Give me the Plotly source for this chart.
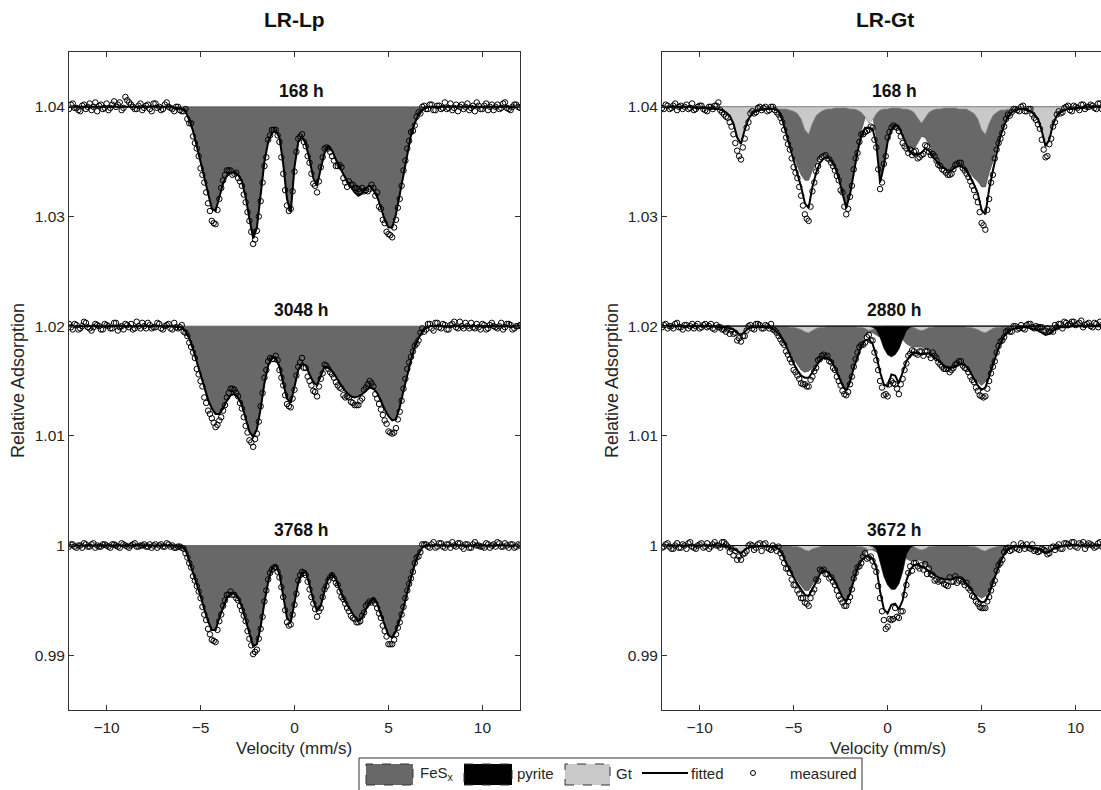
import numpy as np
import plotly.graph_objects as go

# ---------------- data ----------------
# velocity channels (mm/s) and the interleaved channels in between
velocity = np.round(np.linspace(-12.0, 12.0, 121), 1)
velocity_mid = np.round(np.linspace(-11.9, 11.9, 120), 1)
DEPTH_UNIT = 1e-4  # all depths below are absorption depths in units of 1e-4

# ---- LR-Lp panel (only FeSx; fill = fitted curve) ----
lp_times = ["168 h", "3048 h", "3768 h"]
lp_baselines = [1.04, 1.02, 1.00]

lp_168_fes = [
    0, 0, 0, 0, 0, 0, 0, 0, 0, 0,
    0, 0, 0, 0, 0, 0, 0, 0, 0, 0,
    0, 0, 0, 0, 0, 0, 0, 0, 1, 1,
    2, 4, 12, 22, 36, 50, 65, 80, 93, 95,
    82, 70, 63, 60, 60, 62, 68, 82, 102, 120,
    110, 80, 50, 32, 24, 22, 28, 52, 84, 96,
    55, 32, 27, 34, 48, 65, 72, 56, 42, 36,
    40, 48, 55, 62, 68, 73, 78, 81, 79, 74,
    72, 76, 82, 92, 103, 110, 110, 98, 80, 60,
    42, 26, 15, 7, 3, 1, 0, 0, 0, 0,
    0, 0, 0, 0, 0, 0, 0, 0, 0, 0,
    0, 0, 0, 0, 0, 0, 0, 0, 0, 0, 0]
lp_3048_fes = [
    0, 0, 0, 0, 0, 0, 0, 0, 0, 0,
    0, 0, 0, 0, 0, 0, 0, 0, 0, 0,
    0, 0, 0, 0, 0, 0, 0, 0, 0, 1,
    1, 5, 11, 21, 33, 45, 57, 67, 75, 80,
    80, 75, 68, 63, 62, 65, 72, 85, 96, 101,
    94, 75, 52, 36, 29, 29, 37, 52, 66, 70,
    56, 40, 34, 36, 44, 51, 54, 45, 37, 38,
    41, 46, 52, 57, 61, 64, 65, 64, 62, 59,
    56, 57, 61, 68, 76, 82, 86, 85, 74, 59,
    44, 31, 19, 11, 5, 2, 0, 0, 0, 0,
    0, 0, 0, 0, 0, 0, 0, 0, 0, 0,
    0, 0, 0, 0, 0, 0, 0, 0, 0, 0, 0]
lp_3768_fes = [
    0, 0, 0, 0, 0, 0, 0, 0, 0, 0,
    0, 0, 0, 0, 0, 0, 0, 0, 0, 0,
    0, 0, 0, 0, 0, 0, 0, 0, 0, 1,
    1, 4, 14, 24, 34, 46, 58, 69, 77, 77,
    66, 56, 48, 44, 44, 48, 56, 68, 81, 92,
    90, 74, 52, 33, 21, 18, 26, 45, 66, 70,
    53, 34, 25, 24, 36, 50, 60, 55, 41, 30,
    26, 31, 40, 48, 54, 60, 65, 69, 66, 58,
    52, 48, 53, 63, 73, 82, 84, 78, 68, 57,
    43, 29, 17, 8, 2, 0, 0, 0, 0, 0,
    0, 0, 0, 0, 0, 0, 0, 0, 0, 0,
    0, 0, 0, 0, 0, 0, 0, 0, 0, 0, 0]

# measured points on the main channels: measured minus fitted depth (1e-4)
lp_168_resid = [
    2, -3, 1, 4, -2, 0, 3, -4, -1, 2,
    -3, 1, -5, -2, 3, -9, -4, 0, 2, -3,
    1, -2, 4, -3, 0, 2, -4, 1, 3, -1,
    2, -2, 3, 5, 2, 6, 4, 8, 11, 12,
    2, -3, -5, -2, 1, 3, 4, 5, 2, 5,
    3, 6, 4, -2, -3, -1, 4, 9, 6, -3,
    4, -3, -2, 2, 3, 5, 6, -1, -4, 2,
    5, 6, -2, 3, 5, -2, -4, -6, -5, 2,
    3, -2, -4, 1, 3, 6, 9, 5, 4, -2,
    -4, -3, 2, -2, -3, 1, -2, 3, -1, 2,
    -4, 1, 3, -2, 0, 2, -3, 1, 4, -1,
    2, -3, 0, 3, -2, 1, -4, 2, 0, -2, 1]
lp_3048_resid = [
    -2, 3, -1, 2, -4, 1, 4, -2, 0, 3,
    -1, 2, -3, 4, 0, -2, 1, 3, -4, 2,
    0, -3, 2, 1, -2, 3, -1, 2, -3, 1,
    -2, 1, 4, 3, 6, 5, 8, 10, 9, 12,
    6, 2, -3, -6, -4, -1, 3, 6, 8, 9,
    4, -2, -5, -4, 1, -2, 3, 2, 5, 4,
    2, -3, -5, 2, 6, 8, 10, 3, -2, 1,
    3, 5, 4, 6, 3, 5, 7, 8, 4, -3,
    -6, -2, 5, 8, 10, 14, 12, 8, 4, -2,
    -5, -3, -1, 2, -3, 1, -2, 4, -3, 2,
    -1, 3, -2, 1, -4, 2, 0, -3, 2, 1,
    -2, 3, -1, 0, 2, -3, 1, -2, 3, 0, -1]
lp_3768_resid = [
    1, -1, 2, 0, -2, 1, -1, 2, 1, -1,
    0, 2, -1, 1, -2, 0, 2, -1, 1, 0,
    -1, 1, 2, -1, 0, 1, -2, 1, 2, 0,
    1, 3, 2, 4, 3, 2, 5, 7, 9, 11,
    3, -1, -3, -2, 1, 2, 3, 1, 4, 7,
    5, 2, -1, -2, 1, 2, 3, 2, 4, 2,
    1, -2, -1, 3, 4, 3, 5, 2, -1, 2,
    1, 3, 2, 1, 3, 4, 2, 1, -2, -3,
    -1, 2, 4, 3, 5, 8, 6, 3, 2, -1,
    -2, 1, -1, 2, -3, -1, 2, -3, 1, -2,
    2, -1, -3, 1, -2, 3, -1, 2, -3, 0,
    1, -2, 2, -1, -3, 1, -2, 2, -1, 1, 0]

# measured points on the in-between channels: measured depth (1e-4)
lp_168_meas_mid = [
    -2, 1, 3, -1, 2, -3, 0, 4, -2, 1,
    3, -2, 0, -4, 1, -6, -2, 2, -1, 3,
    -1, 2, -3, 1, 3, -2, 0, 2, 0, 3,
    4, 11, 15, 33, 45, 62, 78, 95, 106, 94,
    74, 62, 58, 62, 60, 68, 80, 96, 114, 121,
    100, 69, 46, 26, 21, 26, 46, 76, 95, 77,
    41, 27, 32, 45, 61, 72, 68, 46, 37, 41,
    49, 54, 55, 69, 68, 71, 74, 77, 77, 77,
    71, 81, 91, 103, 114, 117, 110, 92, 72, 49,
    31, 22, 9, 6, -1, 2, -2, 3, -1, 1,
    2, -3, 1, 4, -2, 0, 3, -1, -4, 2,
    -1, 3, -2, 0, 2, -3, 1, 3, -2, 0]
lp_3048_meas_mid = [
    1, -2, 3, 0, -3, 2, 1, -1, 3, -2,
    0, 2, -3, 1, 3, -1, -2, 2, 0, -3,
    2, -1, 1, -3, 2, 0, -2, 3, 1, 1,
    5, 9, 19, 29, 44, 55, 70, 80, 88, 90,
    83, 72, 61, 57, 61, 70, 83, 97, 106, 103,
    87, 61, 40, 29, 30, 31, 47, 63, 73, 66,
    45, 33, 38, 46, 54, 60, 55, 43, 36, 42,
    47, 54, 57, 65, 65, 70, 72, 68, 58, 53,
    52, 62, 71, 81, 89, 97, 97, 85, 68, 48,
    33, 23, 16, 6, 5, -2, 2, -3, 1, -2,
    3, -1, -4, 2, 0, -3, 2, 1, -2, 3,
    -1, 2, -3, 1, 0, 3, -2, -1, 2, 0]
lp_3768_meas_mid = [
    -1, 1, 0, 2, -1, 1, -2, 0, 1, -1,
    1, -1, 0, 2, -1, 1, 0, -2, 1, 0,
    1, -1, 0, 2, -1, 1, -1, 0, 2, 1,
    3, 11, 20, 32, 42, 56, 68, 81, 87, 77,
    63, 50, 45, 45, 48, 55, 64, 78, 91, 97,
    85, 65, 41, 25, 20, 24, 38, 59, 73, 63,
    44, 27, 25, 33, 47, 58, 60, 47, 37, 29,
    30, 36, 47, 53, 60, 66, 70, 69, 61, 53,
    52, 53, 62, 73, 83, 90, 86, 75, 63, 48,
    35, 24, 11, 6, -1, 1, -1, 2, -2, 1,
    -1, 2, 0, -2, 1, -1, 2, -1, 0, 1,
    2, -1, 0, 1, -2, 1, 0, -1, 2, -1]

# ---- LR-Gt panel (FeSx, goethite, pyrite components + fitted) ----
gt_times = ["168 h", "2880 h", "3672 h"]
gt_baselines = [1.04, 1.02, 1.00]

gt_168_fes = [
    0, 0, 0, 0, 0, 0, 0, 0, 0, 0,
    0, 0, 0, 0, 0, 0, 0, 0, 0, 0,
    0, 0, 0, 0, 0, 0, 0, 0, 0, 0,
    0, 2, 10, 22, 33, 45, 54, 62, 67, 67,
    58, 52, 46, 44, 44, 47, 54, 64, 78, 91,
    78, 58, 38, 22, 10, 4, 8, 28, 66, 52,
    30, 20, 16, 18, 25, 32, 38, 39, 33, 27,
    28, 35, 42, 48, 52, 55, 57, 57, 54, 52,
    53, 56, 60, 65, 68, 73, 73, 60, 50, 36,
    24, 14, 7, 3, 1, 0, 0, 0, 0, 0,
    0, 0, 0, 0, 0, 0, 0, 0, 0, 0,
    0, 0, 0, 0, 0, 0, 0, 0, 0, 0, 0]
gt_168_gt = [
    0, 0, 0, 0, 0, 0, 0, 0, 0, 1,
    1, 1, 1, 1, 2, 2, 3, 5, 8, 15,
    28, 34, 21, 11, 6, 4, 3, 2, 2, 2,
    2, 2, 2, 2, 3, 4, 6, 11, 21, 25,
    15, 8, 5, 3, 2, 2, 1, 1, 1, 1,
    2, 2, 3, 5, 9, 15, 12, 6, 3, 2,
    2, 1, 1, 1, 2, 2, 3, 5, 10, 15,
    10, 5, 3, 2, 2, 1, 1, 1, 1, 2,
    2, 2, 4, 6, 11, 21, 25, 15, 8, 5,
    3, 3, 2, 2, 2, 2, 2, 3, 4, 7,
    11, 22, 36, 30, 16, 8, 5, 3, 2, 2,
    1, 1, 1, 0, 0, 0, 0, 0, 0, 0, 0]
gt_168_pyr = None
gt_168_fit = [
    0, 0, 0, 0, 0, 0, 0, 0, 0, 1,
    1, 1, 1, 1, 2, 2, 3, 5, 8, 15,
    28, 34, 21, 11, 6, 4, 3, 2, 2, 2,
    2, 4, 12, 24, 36, 49, 60, 73, 88, 92,
    73, 60, 51, 47, 46, 49, 55, 65, 79, 92,
    80, 60, 41, 27, 19, 19, 20, 34, 69, 54,
    32, 21, 17, 19, 27, 34, 41, 44, 43, 42,
    38, 40, 45, 50, 54, 56, 58, 58, 55, 54,
    55, 58, 64, 71, 79, 94, 98, 75, 58, 41,
    27, 17, 9, 5, 3, 2, 2, 3, 4, 7,
    11, 22, 36, 30, 16, 8, 5, 3, 2, 2,
    1, 1, 1, 0, 0, 0, 0, 0, 0, 0, 0]
gt_168_resid = [
    1, -2, 2, -1, 3, -1, 0, 2, -3, 1,
    -2, 1, 3, -1, -3, -6, 2, 4, 6, 10,
    12, 14, 8, 3, -2, 1, -3, -1, 2, -2,
    1, 3, 2, 4, 3, 6, 5, 8, 10, 12,
    4, -1, -3, -2, 1, 2, 3, 2, -1, 6,
    2, -3, 1, -2, 4, 2, -1, 3, 6, -2,
    -4, -2, 1, 3, 6, 4, -2, -3, 4, 2,
    -3, 1, -2, -1, 0, 2, 4, 3, -2, -3,
    1, 3, 4, 5, 8, 12, 14, 9, 4, -2,
    2, 1, -2, 0, -1, 2, -3, 1, -2, 3,
    5, 8, 10, 4, 2, -1, 1, -2, -3, 2,
    -1, 2, -3, 0, -2, 1, -3, 2, -2, 1, 0]
gt_168_meas_mid = [
    2, -1, 1, -3, 0, 2, -2, 1, 3, 0,
    -1, 3, 0, 2, -1, 3, 7, 10, 18, 33,
    45, 37, 19, 6, 6, 1, 3, 0, 3, 0,
    5, 10, 21, 34, 47, 60, 73, 90, 102, 91,
    69, 54, 46, 44, 48, 54, 63, 76, 91, 93,
    72, 47, 32, 25, 22, 18, 30, 57, 69, 45,
    23, 17, 19, 27, 36, 42, 44, 40, 46, 43,
    36, 44, 45, 53, 57, 60, 62, 57, 52, 51,
    58, 64, 72, 82, 96, 108, 94, 69, 47, 33,
    24, 11, 8, 2, 3, 0, 4, 2, 7, 12,
    20, 39, 45, 29, 14, 4, 5, 0, 3, -1,
    1, -2, 2, 0, -1, 2, -3, 1, 0, -1]

gt_2880_fes = [
    0, 0, 0, 0, 0, 0, 0, 0, 0, 0,
    0, 0, 0, 0, 0, 0, 0, 0, 0, 0,
    0, 0, 0, 0, 0, 0, 0, 0, 0, 0,
    2, 5, 10, 16, 23, 30, 35, 40, 42, 41,
    38, 35, 30, 28, 28, 31, 37, 45, 53, 58,
    50, 37, 26, 15, 9, 6, 6, 8, 10, 10,
    10, 10, 10, 10, 12, 16, 18, 19, 19, 19,
    20, 22, 25, 29, 32, 35, 37, 37, 36, 34,
    34, 36, 41, 46, 51, 54, 51, 43, 33, 23,
    14, 8, 3, 1, 0, 0, 0, 0, 0, 0,
    0, 0, 0, 0, 0, 0, 0, 0, 0, 0,
    0, 0, 0, 0, 0, 0, 0, 0, 0, 0, 0]
gt_2880_gt = [
    0, 0, 0, 0, 0, 0, 0, 0, 0, 0,
    0, 0, 0, 0, 0, 1, 1, 1, 2, 3,
    6, 8, 5, 2, 1, 1, 0, 0, 0, 0,
    0, 0, 0, 0, 1, 1, 2, 3, 5, 6,
    4, 2, 1, 1, 0, 0, 0, 0, 0, 0,
    0, 0, 1, 1, 2, 4, 3, 2, 1, 0,
    0, 0, 0, 0, 0, 1, 1, 1, 3, 4,
    3, 1, 1, 0, 0, 0, 0, 0, 0, 0,
    0, 1, 1, 2, 3, 5, 6, 4, 2, 1,
    1, 0, 0, 0, 0, 0, 0, 0, 1, 2,
    3, 5, 8, 7, 4, 2, 1, 1, 1, 0,
    0, 0, 0, 0, 0, 0, 0, 0, 0, 0, 0]
gt_2880_pyr = [
    0, 0, 0, 0, 0, 0, 0, 0, 0, 0,
    0, 0, 0, 0, 0, 0, 0, 0, 0, 0,
    0, 0, 0, 0, 0, 0, 0, 0, 0, 0,
    0, 0, 0, 0, 0, 0, 0, 0, 0, 0,
    0, 0, 0, 0, 0, 0, 0, 0, 0, 0,
    0, 0, 0, 0, 0, 0, 1, 3, 10, 20,
    26, 28, 26, 21, 12, 4, 1, 0, 0, 0,
    0, 0, 0, 0, 0, 0, 0, 0, 0, 0,
    0, 0, 0, 0, 0, 0, 0, 0, 0, 0,
    0, 0, 0, 0, 0, 0, 0, 0, 0, 0,
    0, 0, 0, 0, 0, 0, 0, 0, 0, 0,
    0, 0, 0, 0, 0, 0, 0, 0, 0, 0, 0]
gt_2880_fit = [
    0, 0, 0, 0, 0, 0, 0, 0, 0, 0,
    0, 0, 0, 0, 0, 1, 1, 1, 2, 3,
    6, 8, 5, 2, 1, 1, 1, 1, 1, 1,
    4, 7, 12, 18, 26, 34, 40, 45, 47, 47,
    42, 36, 31, 29, 29, 32, 38, 46, 54, 59,
    51, 38, 27, 18, 13, 12, 16, 27, 42, 53,
    55, 44, 45, 52, 42, 32, 27, 24, 25, 26,
    25, 25, 27, 30, 33, 36, 38, 38, 37, 35,
    35, 37, 42, 48, 54, 58, 56, 46, 35, 25,
    16, 9, 5, 3, 2, 2, 1, 1, 2, 3,
    4, 6, 8, 7, 4, 2, 1, 1, 1, 0,
    0, 0, 0, 0, 0, 0, 0, 0, 0, 0, 0]
gt_2880_resid = [
    1, -2, 0, 2, -3, 1, -1, 2, -2, 0,
    2, -1, 1, -2, 3, 0, 2, 4, 5, 4,
    7, 6, 4, -2, 1, -3, -2, 1, -1, -3,
    0, 2, 3, 5, 4, 6, 5, 7, 6, 8,
    4, 2, -1, -3, -2, 1, 2, 4, 5, 4,
    2, -1, -3, -1, 2, -4, -3, 4, 8, 10,
    9, 6, 8, 10, 6, 2, -2, -1, 1, -3,
    -2, 1, -3, -1, 2, 3, 1, 2, -2, -3,
    1, 2, 4, 3, 5, 6, 8, 4, 2, -1,
    -2, 1, -1, 2, -2, 0, 1, -2, -4, -1,
    -3, -5, -4, -2, 1, -1, -3, -5, -2, -4,
    -1, -3, 1, -2, 0, -3, 1, -1, -2, 0, 1]
gt_2880_meas_mid = [
    -1, 2, 0, -2, 1, 3, -1, 0, 2, -2,
    1, -2, 0, 2, -1, 1, 3, 2, 4, 6,
    11, 9, 4, -1, 3, -2, 2, -1, 2, 3,
    6, 12, 17, 26, 33, 42, 48, 53, 55, 49,
    41, 31, 27, 28, 32, 38, 46, 54, 62, 60,
    46, 30, 19, 17, 10, 13, 24, 40, 56, 62,
    53, 52, 57, 53, 40, 27, 22, 25, 23, 27,
    23, 29, 27, 33, 37, 39, 42, 38, 34, 32,
    38, 42, 49, 56, 63, 65, 57, 43, 32, 18,
    13, 5, 5, 0, 3, -1, 3, -2, 1, 0,
    1, 4, 2, 4, -1, -2, 2, -3, -2, -4,
    -2, -5, -1, -3, 1, -2, -4, 0, -3, -1]

gt_3672_fes = [
    0, 0, 0, 0, 0, 0, 0, 0, 0, 0,
    0, 0, 0, 0, 0, 0, 0, 0, 0, 0,
    0, 0, 0, 0, 0, 0, 0, 0, 0, 0,
    0, 1, 6, 14, 21, 27, 32, 37, 41, 41,
    36, 30, 24, 22, 23, 27, 32, 38, 45, 49,
    42, 30, 19, 12, 7, 4, 4, 6, 8, 8,
    8, 8, 8, 8, 9, 12, 14, 13, 13, 14,
    17, 21, 24, 27, 29, 31, 31, 30, 28, 28,
    30, 34, 38, 42, 46, 48, 46, 41, 32, 24,
    15, 7, 2, 0, 0, 0, 0, 0, 0, 0,
    0, 0, 0, 0, 0, 0, 0, 0, 0, 0,
    0, 0, 0, 0, 0, 0, 0, 0, 0, 0, 0]
gt_3672_gt = [
    0, 0, 0, 0, 0, 0, 0, 0, 0, 0,
    0, 0, 0, 0, 0, 0, 1, 1, 2, 3,
    5, 7, 4, 2, 1, 1, 0, 0, 0, 0,
    0, 0, 0, 0, 0, 1, 1, 2, 4, 5,
    3, 2, 1, 0, 0, 0, 0, 0, 0, 0,
    0, 0, 1, 1, 2, 4, 3, 2, 1, 0,
    0, 0, 0, 0, 0, 1, 1, 1, 3, 4,
    3, 1, 1, 0, 0, 0, 0, 0, 0, 0,
    0, 0, 1, 1, 2, 4, 5, 3, 2, 1,
    0, 0, 0, 0, 0, 0, 0, 0, 1, 2,
    3, 4, 7, 6, 3, 2, 1, 0, 0, 0,
    0, 0, 0, 0, 0, 0, 0, 0, 0, 0, 0]
gt_3672_pyr = [
    0, 0, 0, 0, 0, 0, 0, 0, 0, 0,
    0, 0, 0, 0, 0, 0, 0, 0, 0, 0,
    0, 0, 0, 0, 0, 0, 0, 0, 0, 0,
    0, 0, 0, 0, 0, 0, 0, 0, 0, 0,
    0, 0, 0, 0, 0, 0, 0, 0, 0, 0,
    0, 0, 0, 0, 0, 0, 1, 3, 15, 28,
    36, 40, 40, 35, 24, 8, 2, 0, 0, 0,
    0, 0, 0, 0, 0, 0, 0, 0, 0, 0,
    0, 0, 0, 0, 0, 0, 0, 0, 0, 0,
    0, 0, 0, 0, 0, 0, 0, 0, 0, 0,
    0, 0, 0, 0, 0, 0, 0, 0, 0, 0,
    0, 0, 0, 0, 0, 0, 0, 0, 0, 0, 0]
gt_3672_fit = [
    0, 0, 0, 0, 0, 0, 0, 0, 0, 0,
    0, 0, 0, 0, 0, 0, 1, 1, 2, 3,
    5, 7, 4, 2, 1, 1, 1, 1, 1, 1,
    1, 3, 8, 16, 23, 29, 35, 40, 45, 46,
    40, 33, 26, 23, 24, 28, 33, 40, 47, 51,
    44, 32, 21, 14, 10, 10, 12, 20, 42, 58,
    62, 54, 53, 58, 50, 32, 22, 18, 17, 19,
    21, 23, 26, 28, 30, 31, 31, 31, 29, 29,
    31, 35, 40, 44, 49, 52, 51, 44, 34, 25,
    15, 8, 3, 2, 1, 1, 1, 1, 2, 3,
    3, 4, 7, 6, 3, 2, 1, 0, 0, 0,
    0, 0, 0, 0, 0, 0, 0, 0, 0, 0, 0]
gt_3672_resid = [
    2, -1, 1, 3, -2, 2, 0, -2, 1, 3,
    -1, 2, -2, 1, -3, 0, -4, -2, 4, 6,
    8, 6, 3, -2, -1, 1, -3, -2, 1, 3,
    1, -2, 3, 5, 2, 7, 6, 8, 7, 9,
    3, -2, -4, -1, 2, 1, 3, 6, 5, 4,
    3, -2, -1, 2, -3, 1, 2, 4, 6, 10,
    12, 14, 4, 8, 10, 4, -3, -2, 2, -1,
    -4, -2, 1, 3, 2, 4, 6, 2, -1, 3,
    2, -1, 1, 3, 4, 5, 6, 3, 1, -2,
    1, -2, -1, 2, 1, 3, -1, -2, 1, 2,
    3, -1, -2, 1, -2, -1, 2, -2, -1, -3,
    1, -2, -3, 0, -1, 2, -2, 1, -3, -1, 2]
gt_3672_meas_mid = [
    1, -2, 3, 0, 2, -1, 3, -3, 2, 0,
    -2, 1, 3, -1, 0, 2, -3, 1, 3, 5,
    10, 8, 5, -1, 4, -1, 5, -2, 3, 0,
    5, 7, 16, 21, 31, 36, 44, 48, 53, 48,
    40, 32, 23, 26, 30, 33, 41, 49, 55, 51,
    40, 25, 19, 10, 12, 10, 19, 37, 60, 76,
    67, 67, 65, 60, 45, 25, 23, 16, 21, 22,
    26, 26, 32, 33, 32, 36, 29, 33, 34, 31,
    36, 39, 46, 51, 56, 57, 51, 41, 32, 18,
    13, 3, 5, -1, 3, -2, 3, 2, -1, 4,
    5, 4, 8, 2, 4, -1, 3, -2, 1, -3,
    2, -1, 3, -2, 0, 1, -3, 2, -1, 3]

x_ticks = [-10, -5, 0, 5, 10]
y_ticks = [0.99, 1.00, 1.01, 1.02, 1.03, 1.04]
y_ticktext = ["0.99", "1", "1.01", "1.02", "1.03", "1.04"]

for arr in [lp_168_fes, lp_3048_fes, lp_3768_fes, lp_168_resid, lp_3048_resid,
            lp_3768_resid, gt_168_fes, gt_168_gt, gt_168_fit, gt_168_resid,
            gt_2880_fes, gt_2880_gt, gt_2880_pyr, gt_2880_fit, gt_2880_resid,
            gt_3672_fes, gt_3672_gt, gt_3672_pyr, gt_3672_fit, gt_3672_resid]:
    assert len(arr) == len(velocity), len(arr)
for arr in [lp_168_meas_mid, lp_3048_meas_mid, lp_3768_meas_mid,
            gt_168_meas_mid, gt_2880_meas_mid, gt_3672_meas_mid]:
    assert len(arr) == len(velocity_mid), len(arr)

# ---------------- style ----------------
W, H = 1101, 790
FES_COLOR = "#686868"
GT_COLOR = "#c9c9c9"
PYR_COLOR = "#000000"
FONT = "Liberation Sans, Arial, Helvetica, sans-serif"
TXT = "#262626"


def px(x):
    return x / W


def py(y):
    return 1 - y / H


def level(base, depth):
    return [base - d * DEPTH_UNIT for d in depth]


fig = go.Figure()


def add_fill(base, depth, color, edge, xa, ya):
    xs = list(velocity) + [velocity[-1], velocity[0]]
    ys = level(base, depth) + [base, base]
    fig.add_trace(go.Scatter(x=xs, y=ys, mode="lines", fill="toself",
                             fillcolor=color, line=dict(color=edge, width=0.7),
                             xaxis=xa, yaxis=ya, showlegend=False,
                             hoverinfo="skip"))


def add_fit_and_points(base, fit, resid, mid, xa, ya):
    meas = [f + r for f, r in zip(fit, resid)]
    xs = list(velocity) + list(velocity_mid)
    ys = level(base, meas) + level(base, mid)
    fig.add_trace(go.Scatter(x=xs, y=ys, mode="markers",
                             marker=dict(symbol="circle-open", size=5.5,
                                         color="black", line=dict(width=1)),
                             xaxis=xa, yaxis=ya, showlegend=False))
    fig.add_trace(go.Scatter(x=velocity, y=level(base, fit), mode="lines",
                             line=dict(color="black", width=2),
                             xaxis=xa, yaxis=ya, showlegend=False))


# Left panel
lp_fes = [lp_168_fes, lp_3048_fes, lp_3768_fes]
lp_resid = [lp_168_resid, lp_3048_resid, lp_3768_resid]
lp_mid = [lp_168_meas_mid, lp_3048_meas_mid, lp_3768_meas_mid]
for base, fes, res, mid in zip(lp_baselines, lp_fes, lp_resid, lp_mid):
    add_fill(base, fes, FES_COLOR, "#4a4a4a", "x", "y")
    add_fit_and_points(base, fes, res, mid, "x", "y")

# Right panel
gt_fes = [gt_168_fes, gt_2880_fes, gt_3672_fes]
gt_gt = [gt_168_gt, gt_2880_gt, gt_3672_gt]
gt_pyr = [gt_168_pyr, gt_2880_pyr, gt_3672_pyr]
gt_fit = [gt_168_fit, gt_2880_fit, gt_3672_fit]
gt_resid = [gt_168_resid, gt_2880_resid, gt_3672_resid]
gt_mid = [gt_168_meas_mid, gt_2880_meas_mid, gt_3672_meas_mid]
for base, fes, gtc, pyr, fit, res, mid in zip(gt_baselines, gt_fes, gt_gt,
                                              gt_pyr, gt_fit, gt_resid, gt_mid):
    add_fill(base, fes, FES_COLOR, "#4a4a4a", "x2", "y2")
    add_fill(base, gtc, GT_COLOR, "#8a8a8a", "x2", "y2")
    if pyr is not None:
        add_fill(base, pyr, PYR_COLOR, "#000000", "x2", "y2")
    add_fit_and_points(base, fit, res, mid, "x2", "y2")

# ---------------- axes ----------------
y_dom = [py(710), py(52)]
axis_common = dict(showline=True, linecolor="#333333", linewidth=1,
                   ticks="inside", ticklen=5, tickcolor="#333333",
                   showgrid=False, zeroline=False,
                   tickfont=dict(family=FONT, size=15.5, color=TXT))
fig.update_layout(
    xaxis=dict(domain=[px(69), px(520)], range=[-12, 12], tickvals=x_ticks,
               mirror="ticks", anchor="y", ticklabelstandoff=3, **axis_common),
    yaxis=dict(domain=y_dom, range=[0.985, 1.045], tickvals=y_ticks,
               ticktext=y_ticktext, mirror="ticks", anchor="x", **axis_common),
    xaxis2=dict(domain=[px(662), 1.0], range=[-12, 11.35], tickvals=x_ticks,
                mirror="ticks", anchor="y2", ticklabelstandoff=3, **axis_common),
    yaxis2=dict(domain=y_dom, range=[0.985, 1.045], tickvals=y_ticks,
                ticktext=y_ticktext, mirror=False, anchor="x2", **axis_common),
)

annotations = []
# panel titles
for text, cx in [("LR-Lp", 294), ("LR-Gt", 885)]:
    annotations.append(dict(text="<b>%s</b>" % text, x=px(cx), y=py(19),
                            xref="paper", yref="paper", showarrow=False,
                            xanchor="center", yanchor="middle",
                            font=dict(family=FONT, size=21, color="#111")))
# spectrum labels
for xa, ya, times, bases in [("x", "y", lp_times, lp_baselines),
                             ("x2", "y2", gt_times, gt_baselines)]:
    for t, b in zip(times, bases):
        annotations.append(dict(text="<b>%s</b>" % t, x=0.35, y=b + 0.00145,
                                xref=xa, yref=ya, showarrow=False,
                                xanchor="center", yanchor="middle",
                                font=dict(family=FONT, size=17.5, color="#111")))
# axis titles
for cx in [294, 888]:
    annotations.append(dict(text="Velocity (mm/s)", x=px(cx), y=py(748),
                            xref="paper", yref="paper", showarrow=False,
                            xanchor="center", yanchor="middle",
                            font=dict(family=FONT, size=17, color=TXT)))
for cx in [18, 612]:
    annotations.append(dict(text="Relative Adsorption", x=px(cx), y=py(381),
                            xref="paper", yref="paper", showarrow=False,
                            textangle=-90, xanchor="center", yanchor="middle",
                            font=dict(family=FONT, size=18, color=TXT)))

# ---------------- legend (drawn) ----------------
shapes = []
shapes.append(dict(type="rect", xref="paper", yref="paper",
                   x0=px(359), x1=px(862), y0=py(800), y1=py(758),
                   line=dict(color="#333333", width=1), fillcolor="white"))
for x0, x1, col in [(366, 413, FES_COLOR), (464, 512, PYR_COLOR),
                    (565, 610, GT_COLOR)]:
    shapes.append(dict(type="rect", xref="paper", yref="paper",
                       x0=px(x0), x1=px(x1), y0=py(785), y1=py(764),
                       fillcolor=col,
                       line=dict(color="#333333", width=1, dash="dash")))
shapes.append(dict(type="line", xref="paper", yref="paper",
                   x0=px(642), x1=px(688), y0=py(773), y1=py(773),
                   line=dict(color="black", width=2)))
shapes.append(dict(type="circle", xref="paper", yref="paper",
                   x0=px(750.5), x1=px(755.5), y0=py(775.5), y1=py(770.5),
                   line=dict(color="black", width=1)))
for text, x0 in [("FeS<sub>x</sub>", 418), ("pyrite", 515), ("Gt", 614),
                 ("fitted", 689), ("measured", 788)]:
    annotations.append(dict(text=text, x=px(x0), y=py(773), xref="paper",
                            yref="paper", showarrow=False, xanchor="left",
                            yanchor="middle",
                            font=dict(family=FONT, size=15, color=TXT)))

fig.update_layout(width=W, height=H, margin=dict(l=0, r=0, t=0, b=0),
                  paper_bgcolor="white", plot_bgcolor="white",
                  showlegend=False, annotations=annotations, shapes=shapes)

fig.write_html("out.html",
               config={"displayModeBar": False},
               post_script="document.body.style.margin='0';"
                           "document.body.style.overflow='hidden';")
